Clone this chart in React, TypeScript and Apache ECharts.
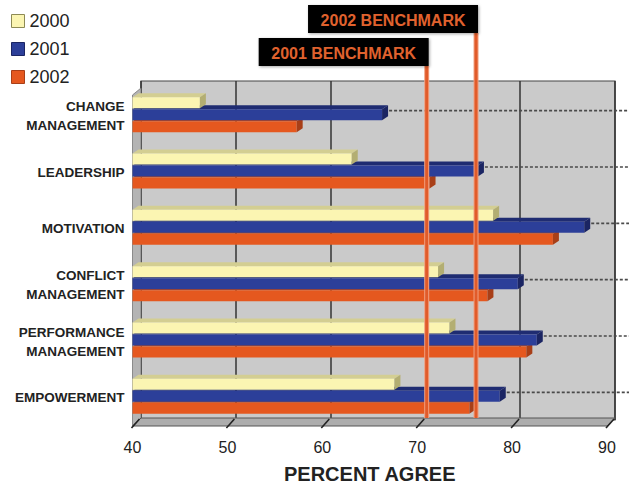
import React, { useEffect, useRef } from "react";
import * as echarts from "echarts";

const categories = [
  "CHANGE\nMANAGEMENT",
  "LEADERSHIP",
  "MOTIVATION",
  "CONFLICT\nMANAGEMENT",
  "PERFORMANCE\nMANAGEMENT",
  "EMPOWERMENT",
];
const years = ["2000", "2001", "2002"];
const values2000 = [47.1, 63.1, 78.0, 72.2, 73.4, 67.6];
const values2001 = [66.3, 76.4, 87.6, 80.6, 82.6, 78.7];
const values2002 = [57.3, 71.3, 84.3, 77.4, 81.5, 75.5];
const benchmarkNames = ["2001 BENCHMARK", "2002 BENCHMARK"];
const benchmarkValues = [71.0, 76.2];
const xTicks = [40, 50, 60, 70, 80, 90];

const FONT = "'Liberation Sans', Arial, Helvetica, sans-serif";

const palettes = [
  { face: "#fbf5b2", top: "#d3ce92", cap: "#b3ae72", border: "#8d8a55" },
  { face: "#2c3f99", top: "#1f2c72", cap: "#1b2563", border: "#1b2563" },
  { face: "#e5581f", top: "#b9461b", cap: "#a83f18", border: "#a83f18" },
];

const DX = 6;
const DY = 4;

function makeBarRender(k: number, dashed: boolean) {
  const pal = palettes[k];
  return (params: any, api: any) => {
    const v = api.value(0);
    const ci = api.value(1);
    const p0 = api.coord([40, ci]);
    const p1 = api.coord([v, ci]);
    const c = p0[1];
    const h = 11;
    const y = c - 19 + k * 12;
    const x0 = p0[0];
    const x1 = p1[0];
    const children: any[] = [
      {
        type: "polygon",
        shape: { points: [[x0, y], [x1, y], [x1 + DX, y - DY], [x0 + DX, y - DY]] },
        style: { fill: pal.top },
      },
      {
        type: "rect",
        shape: { x: x0, y: y, width: x1 - x0, height: h },
        style: { fill: pal.face },
      },
      {
        type: "polygon",
        shape: { points: [[x1, y], [x1 + DX, y - DY], [x1 + DX, y + h - DY], [x1, y + h]] },
        style: { fill: pal.cap },
      },
    ];
    if (dashed) {
      children.push({
        type: "line",
        shape: { x1: x1 + DX + 1, y1: y + 1.5, x2: api.getWidth(), y2: y + 1.5 },
        style: { stroke: "#4a4a4a", lineWidth: 1.6, lineDash: [3, 2] },
      });
    }
    return { type: "group", children };
  };
}

function benchmarkRender(params: any, api: any) {
  const i = params.dataIndex;
  const x = api.coord([api.value(0), 0])[0];
  const cs = params.coordSys;
  const bottom = cs.y + cs.height - 8;
  const boxTop = 38 - i * 33;
  const boxH = 28;
  const boxW = 170;
  return {
    type: "group",
    children: [
      {
        type: "line",
        shape: { x1: x, y1: boxTop + boxH, x2: x, y2: bottom },
        style: { stroke: "#f0a080", lineWidth: 5 },
      },
      {
        type: "line",
        shape: { x1: x, y1: boxTop + boxH, x2: x, y2: bottom },
        style: { stroke: "#e15b2a", lineWidth: 3 },
      },
      {
        type: "rect",
        shape: { x: x - boxW + 2, y: boxTop, width: boxW, height: boxH },
        style: { fill: "#050505", shadowBlur: 3, shadowColor: "rgba(0,0,0,0.35)", shadowOffsetX: 1, shadowOffsetY: 1 },
      },
      {
        type: "text",
        x: x - boxW / 2 + 2,
        y: boxTop + boxH / 2 + 1,
        style: {
          text: benchmarkNames[i],
          fill: "#e0622e",
          font: `bold 16px ${FONT}`,
          align: "center",
          verticalAlign: "middle",
        },
      },
    ],
  };
}

function floorRender(params: any, api: any) {
  const cs = params.coordSys;
  const x = api.coord([api.value(0), 0])[0];
  const bottom = cs.y + cs.height;
  const children: any[] = [];
  if (params.dataIndex === 0) {
    const left = cs.x;
    const right = cs.x + cs.width;
    children.push({
      type: "polygon",
      shape: { points: [[left, cs.y + 7], [left + 8.5, cs.y], [left + 8.5, bottom - 8], [left, bottom]] },
      style: { fill: "#b4b4b4", stroke: "#777", lineWidth: 0.8 },
    });
    children.push({
      type: "polygon",
      shape: { points: [[left, bottom], [right, bottom], [right + 8, bottom - 8], [left + 8.5, bottom - 8]] },
      style: { fill: "#adadad", stroke: "#555", lineWidth: 1 },
    });
  }
  children.push({
    type: "line",
    shape: { x1: x - 1, y1: bottom + 2, x2: x + 7, y2: bottom - 7 },
    style: { stroke: "#222", lineWidth: 1.6 },
  });
  return { type: "group", children };
}

export default function App() {
  const ref = useRef<HTMLDivElement>(null);
  useEffect(() => {
    if (!ref.current) return;
    const chart = echarts.init(ref.current, null, { renderer: "svg" });
    const seriesValues = [values2000, values2001, values2002];
    chart.setOption({
      animation: false,
      backgroundColor: "#ffffff",
      textStyle: { fontFamily: FONT },
      legend: {
        orient: "vertical",
        left: 6,
        top: 7,
        icon: "rect",
        itemWidth: 13,
        itemHeight: 13,
        itemGap: 10,
        textStyle: { fontSize: 18, color: "#222", fontFamily: FONT, lineHeight: 18 },
        data: years.map((y, k) => ({
          name: y,
          itemStyle: { color: palettes[k].face, borderColor: palettes[k].border, borderWidth: 1 },
        })),
      },
      grid: [
        {
          left: 141,
          right: 14,
          top: 81,
          bottom: 69,
          show: true,
          backgroundColor: "#cacaca",
          borderColor: "#444",
          borderWidth: 1.2,
        },
        { left: 132.5, right: 22, top: 88, bottom: 61 },
      ],
      xAxis: [
        {
          gridIndex: 0,
          type: "value",
          min: 40,
          max: 90,
          interval: 10,
          axisLine: { show: false },
          axisTick: { show: false },
          axisLabel: { show: false },
          splitLine: { show: true, lineStyle: { color: "#333", width: 1.5 } },
        },
        {
          gridIndex: 1,
          type: "value",
          min: 40,
          max: 90,
          interval: 10,
          axisLine: { show: false },
          axisTick: { show: false },
          splitLine: { show: false },
          axisLabel: { fontSize: 16, color: "#222", margin: 13, fontFamily: FONT },
          name: "PERCENT AGREE",
          nameLocation: "middle",
          nameGap: 38,
          nameTextStyle: { fontSize: 20, fontWeight: "bold", color: "#222", fontFamily: FONT },
        },
      ],
      yAxis: [
        { gridIndex: 0, type: "value", show: false, min: 0, max: 1, splitLine: { show: false } },
        {
          gridIndex: 1,
          type: "category",
          inverse: true,
          data: categories,
          axisLine: { show: false },
          axisTick: { show: false },
          splitLine: { show: false },
          axisLabel: {
            fontSize: 13.5,
            fontWeight: "bold",
            color: "#222",
            lineHeight: 19,
            margin: 8,
            fontFamily: FONT,
          },
        },
      ],
      series: [
        {
          name: "floor",
          type: "custom",
          xAxisIndex: 1,
          yAxisIndex: 1,
          z: 1,
          silent: true,
          renderItem: floorRender,
          data: xTicks.map((v) => [v, 0]),
          encode: { x: 0, y: 1 },
        },
        ...years.map((y, k) => ({
          name: y,
          type: "custom",
          xAxisIndex: 1,
          yAxisIndex: 1,
          z: 5 - k,
          itemStyle: { color: palettes[k].face },
          renderItem: makeBarRender(k, k === 1),
          data: seriesValues[k].map((v, i) => [v, i]),
          encode: { x: 0, y: 1 },
        })),
        {
          name: "benchmarks",
          type: "custom",
          xAxisIndex: 1,
          yAxisIndex: 1,
          z: 10,
          renderItem: benchmarkRender,
          data: benchmarkValues.map((v) => [v, 0]),
          encode: { x: 0, y: 1 },
        },
      ],
    });
    return () => chart.dispose();
  }, []);
  return (
    <div
      ref={ref}
      style={{ position: "fixed", left: 0, top: 0, width: 629, height: 489 }}
    />
  );
}
